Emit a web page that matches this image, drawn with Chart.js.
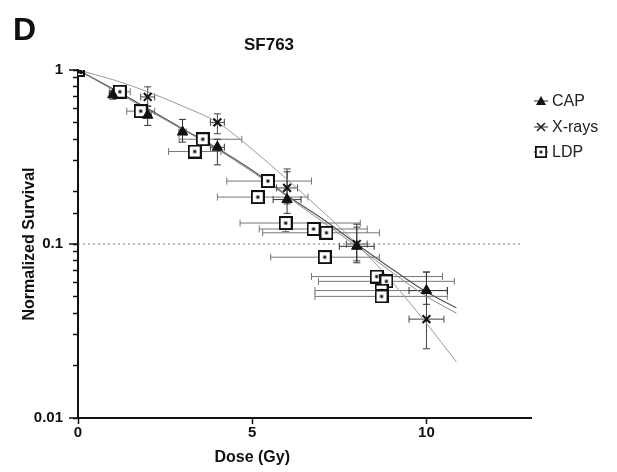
<!DOCTYPE html>
<html>
<head>
<meta charset="utf-8">
<script src="https://cdn.jsdelivr.net/npm/chart.js@4.4.1/dist/chart.umd.min.js"></script>
<style>
  html, body { margin: 0; padding: 0; background: #fff; }
  #wrap { position: relative; width: 617px; height: 472px; }
</style>
</head>
<body>
<div id="wrap"><canvas id="chart" width="617" height="472"></canvas></div>
<script>
// CAP (triangles)
const capDose = [0, 1, 2, 3, 4, 6, 8, 10];
const capSurv = [1, 0.72, 0.55, 0.44, 0.36, 0.18, 0.097, 0.054];
const capSurvLo = [1, 0.68, 0.48, 0.385, 0.285, 0.15, 0.078, 0.045];
const capSurvHi = [1, 0.76, 0.62, 0.52, 0.40, 0.26, 0.13, 0.069];
const capDoseLo = [0, 0.9, 1.9, 2.9, 3.8, 5.6, 7.5, 9.5];
const capDoseHi = [0, 1.1, 2.1, 3.1, 4.2, 6.4, 8.5, 10.6];

// X-rays (crosses)
const xrDose = [0, 2, 4, 6, 8, 10];
const xrSurv = [1, 0.70, 0.50, 0.21, 0.10, 0.037];
const xrSurvLo = [1, 0.62, 0.43, 0.17, 0.08, 0.025];
const xrSurvHi = [1, 0.80, 0.56, 0.27, 0.125, 0.069];
const xrDoseLo = [0, 1.8, 3.8, 5.7, 7.7, 9.5];
const xrDoseHi = [0, 2.2, 4.2, 6.3, 8.3, 10.5];

// LDP (open squares with dot)
const ldpDose = [0, 1.2, 1.8, 3.35, 3.58, 5.16, 5.45, 5.96, 6.76, 7.13, 7.08, 8.57, 8.85, 8.71, 8.71];
const ldpSurv = [1, 0.75, 0.58, 0.34, 0.40, 0.186, 0.23, 0.132, 0.122, 0.116, 0.084, 0.065, 0.061, 0.054, 0.050];
const ldpSurvLo = [1, 0.72, 0.55, 0.32, 0.38, 0.176, 0.22, 0.118, 0.115, 0.11, 0.08, 0.062, 0.058, 0.051, 0.047];
const ldpSurvHi = [1, 0.78, 0.61, 0.36, 0.42, 0.196, 0.24, 0.14, 0.129, 0.122, 0.088, 0.068, 0.064, 0.057, 0.053];
const ldpDoseLo = [0, 0.9, 1.4, 2.6, 2.9, 4.0, 4.27, 4.65, 5.2, 5.3, 5.53, 6.7, 6.9, 6.8, 6.8];
const ldpDoseHi = [0, 1.5, 2.2, 4.1, 4.7, 6.6, 6.7, 8.1, 8.3, 8.65, 8.65, 10.46, 10.8, 10.6, 10.6];

// fitted curves
const fitDose = [0, 1, 2, 3, 4, 5, 6, 7, 8, 9, 10, 10.86];
const xrFit = [1, 0.88, 0.75, 0.62, 0.50, 0.35, 0.235, 0.155, 0.10, 0.061, 0.035, 0.021];
const capFit = [1, 0.78, 0.60, 0.46, 0.355, 0.265, 0.19, 0.14, 0.10, 0.072, 0.053, 0.043];
const ldpFit = [1, 0.77, 0.59, 0.455, 0.35, 0.26, 0.188, 0.135, 0.097, 0.069, 0.05, 0.04];

// dotted line at 10% survival
const refDose = [0, 12.7];
const refSurv = [0.1, 0.1];

const xTicks = [0, 5, 10];
const yLabels = [0.01, 0.1, 1];

const legendNames = ["CAP", "X-rays", "LDP"];

const FONT = "'Liberation Sans', Arial, sans-serif";

function pts(xs, ys) {
  return xs.map((x, i) => ({ x: x, y: ys[i] }));
}
function errs(xs, ys, xlo, xhi, ylo, yhi) {
  return xs.map((x, i) => ({ x: x, y: ys[i], xlo: xlo[i], xhi: xhi[i], ylo: ylo[i], yhi: yhi[i] }));
}

// square with centre dot, used for LDP
function makeSquare(size) {
  const c = document.createElement("canvas");
  c.width = size; c.height = size;
  const g = c.getContext("2d");
  g.fillStyle = "#fff";
  g.fillRect(0, 0, size, size);
  g.strokeStyle = "#111";
  g.lineWidth = 2;
  g.strokeRect(1, 1, size - 2, size - 2);
  g.fillStyle = "#111";
  const d = 3;
  g.fillRect((size - d) / 2, (size - d) / 2, d, d);
  return c;
}
const squareImg = makeSquare(14);

const errorBars = {
  id: "errorBars",
  beforeDatasetsDraw(chart) {
    const ctx = chart.ctx;
    const xs = chart.scales.x, ys = chart.scales.y;
    ctx.save();
    chart.data.datasets.forEach(ds => {
      if (!ds.errors) return;
      ctx.strokeStyle = ds.errColor || "#444";
      ctx.lineWidth = 1;
      ds.errors.forEach(e => {
        const px = xs.getPixelForValue(e.x), py = ys.getPixelForValue(e.y);
        const cap = 3.5;
        if (e.xhi > e.xlo) {
          const a = xs.getPixelForValue(e.xlo), b = xs.getPixelForValue(e.xhi);
          ctx.beginPath();
          ctx.moveTo(a, py); ctx.lineTo(b, py);
          ctx.moveTo(a, py - cap); ctx.lineTo(a, py + cap);
          ctx.moveTo(b, py - cap); ctx.lineTo(b, py + cap);
          ctx.stroke();
        }
        if (e.yhi > e.ylo) {
          const a = ys.getPixelForValue(e.ylo), b = ys.getPixelForValue(e.yhi);
          ctx.beginPath();
          ctx.moveTo(px, a); ctx.lineTo(px, b);
          ctx.moveTo(px - cap, a); ctx.lineTo(px + cap, a);
          ctx.moveTo(px - cap, b); ctx.lineTo(px + cap, b);
          ctx.stroke();
        }
      });
    });
    ctx.restore();
  }
};

// panel letter, title, x axis title and legend
const decorations = {
  id: "decorations",
  afterDraw(chart) {
    const ctx = chart.ctx;
    const ys = chart.scales.y, xs = chart.scales.x;
    ctx.save();
    // longer marks at the labelled decades
    ctx.strokeStyle = "#111";
    ctx.lineWidth = 1.5;
    yLabels.forEach(v => {
      const py = ys.getPixelForValue(v);
      ctx.beginPath();
      ctx.moveTo(xs.left - 9, py); ctx.lineTo(xs.left, py);
      ctx.stroke();
    });

    ctx.fillStyle = "#111";
    ctx.textBaseline = "middle";
    ctx.font = "bold 32px " + FONT;
    ctx.textAlign = "left";
    ctx.fillText("D", 13, 31);
    ctx.font = "bold 17px " + FONT;
    ctx.textAlign = "center";
    ctx.fillText("SF763", 269, 45);
    ctx.font = "bold 16px " + FONT;
    ctx.fillText("Dose (Gy)", xs.getPixelForValue(5), 458);

    const rows = [101, 127, 152];
    const lx = 541;
    ctx.font = "16px " + FONT;
    ctx.textAlign = "left";
    legendNames.forEach((name, i) => {
      const y = rows[i];
      ctx.strokeStyle = "#222";
      ctx.lineWidth = 1;
      ctx.beginPath();
      ctx.moveTo(lx - 7, y); ctx.lineTo(lx + 7, y);
      ctx.stroke();
      ctx.fillStyle = "#111";
      if (i === 0) {
        ctx.beginPath();
        ctx.moveTo(lx, y - 5); ctx.lineTo(lx + 5, y + 4); ctx.lineTo(lx - 5, y + 4);
        ctx.closePath();
        ctx.fill();
      } else if (i === 1) {
        ctx.lineWidth = 1.6;
        ctx.beginPath();
        ctx.moveTo(lx - 4, y - 4); ctx.lineTo(lx + 4, y + 4);
        ctx.moveTo(lx + 4, y - 4); ctx.lineTo(lx - 4, y + 4);
        ctx.stroke();
      } else {
        ctx.drawImage(squareImg, lx - 6, y - 6, 12, 12);
      }
      ctx.fillStyle = "#222";
      ctx.fillText(name, lx + 11, y + 1);
    });
    ctx.restore();
  }
};

const tickFont = { family: FONT, size: 15, weight: "bold" };

new Chart(document.getElementById("chart"), {
  type: "scatter",
  data: {
    datasets: [
      {
        type: "line", data: pts(refDose, refSurv), borderColor: "#777", borderWidth: 1.2,
        borderDash: [2, 3], pointRadius: 0, order: 5
      },
      {
        type: "line", data: pts(fitDose, xrFit), borderColor: "#9a9a9a", borderWidth: 1,
        pointRadius: 0, cubicInterpolationMode: "monotone", order: 4
      },
      {
        type: "line", data: pts(fitDose, ldpFit), borderColor: "#888", borderWidth: 1,
        pointRadius: 0, cubicInterpolationMode: "monotone", order: 4
      },
      {
        type: "line", data: pts(fitDose, capFit), borderColor: "#555", borderWidth: 1.2,
        pointRadius: 0, cubicInterpolationMode: "monotone", order: 4
      },
      {
        label: "LDP", data: pts(ldpDose, ldpSurv),
        errors: errs(ldpDose, ldpSurv, ldpDoseLo, ldpDoseHi, ldpSurvLo, ldpSurvHi), errColor: "#777",
        pointStyle: squareImg, pointRadius: 7, order: 3
      },
      {
        label: "X-rays", data: pts(xrDose, xrSurv),
        errors: errs(xrDose, xrSurv, xrDoseLo, xrDoseHi, xrSurvLo, xrSurvHi), errColor: "#444",
        pointStyle: "crossRot", pointRadius: 5.5, borderColor: "#111", borderWidth: 2, order: 2
      },
      {
        label: "CAP", data: pts(capDose, capSurv),
        errors: errs(capDose, capSurv, capDoseLo, capDoseHi, capSurvLo, capSurvHi), errColor: "#333",
        pointStyle: "triangle", pointRadius: 6, backgroundColor: "#111", borderColor: "#111",
        borderWidth: 1, order: 1
      }
    ]
  },
  plugins: [errorBars, decorations],
  options: {
    responsive: false,
    animation: false,
    layout: { padding: { left: 0, top: 70, right: 86, bottom: 0 } },
    plugins: { legend: { display: false }, tooltip: { enabled: false } },
    scales: {
      x: {
        type: "linear", min: 0, max: 13,
        afterBuildTicks: s => { s.ticks = xTicks.map(v => ({ value: v })); },
        afterFit: s => { s.height = 54; },
        grid: { drawOnChartArea: false, tickLength: 6, color: "#111", tickWidth: 1.5 },
        border: { color: "#111", width: 2 },
        ticks: { color: "#111", font: tickFont, padding: 0, maxRotation: 0 },
        title: { display: false }
      },
      y: {
        type: "logarithmic", min: 0.01, max: 1,
        afterFit: s => { s.width = 78; },
        grid: { drawOnChartArea: false, tickLength: 5, color: "#111", tickWidth: 1.5 },
        border: { color: "#111", width: 2 },
        ticks: {
          color: "#111", font: tickFont, padding: 10, autoSkip: false,
          callback: v => (yLabels.includes(v) ? String(v) : "")
        },
        title: { display: true, text: "Normalized Survival", color: "#111", font: { family: FONT, size: 16, weight: "bold" }, padding: { top: 20, bottom: 0 } }
      }
    }
  }
});
</script>
</body>
</html>
